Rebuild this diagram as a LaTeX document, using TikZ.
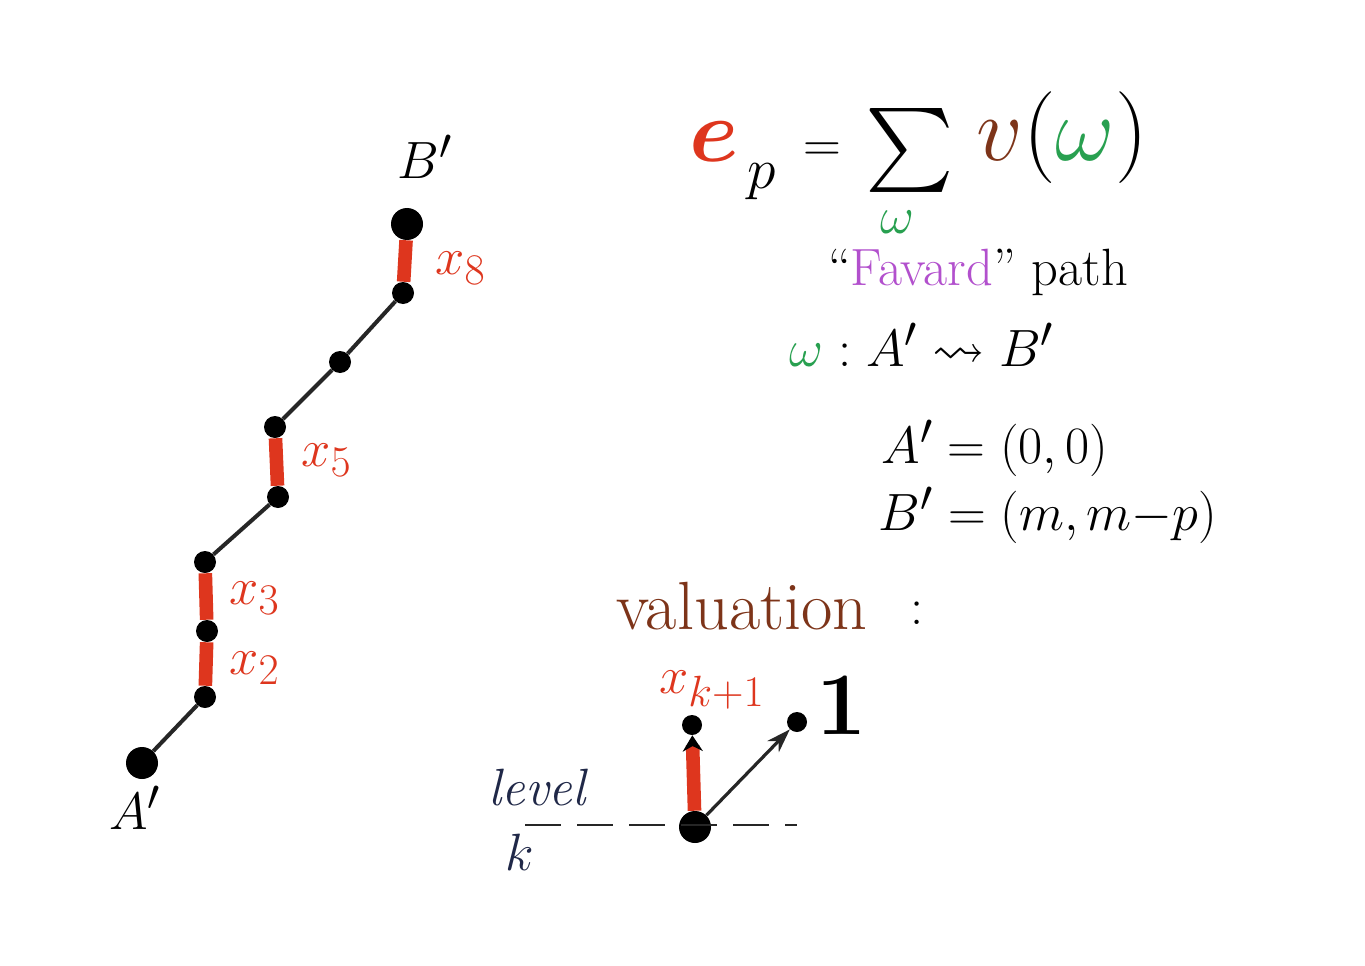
\documentclass[tikz,border=0pt]{standalone}
\usepackage{amsmath,amssymb}
\usepackage{xcolor}
\usepackage{tikz}
\usetikzlibrary{arrows.meta,positioning}
\definecolor{penred}{RGB}{222,54,30}
\definecolor{pengreen}{RGB}{40,160,80}
\definecolor{penpurple}{RGB}{178,80,205}
\definecolor{penbrown}{RGB}{125,52,25}
\definecolor{pennavy}{RGB}{32,40,72}
\tikzset{
  pathdot/.style={circle, fill=black, inner sep=0pt, minimum size=5.5mm},
  enddot/.style={pathdot, minimum size=8mm},
  stepline/.style={penred, line width=3.4mm},
  flatline/.style={black!85, line width=1mm},
  handlabel/.style={font=\Huge, scale=1.5},
  steplabel/.style={handlabel, text=penred, anchor=west}
}

\begin{document}
\begin{tikzpicture}[x=0.25mm, y=-0.25mm]
  \fill[white] (0,0) rectangle (1365,966);
  \useasboundingbox (0,0) rectangle (1365,966);

  % the path from A' to B'
  \node[enddot] (A) at (142,763) {};
  \node[pathdot] (p1) at (205,697) {};
  \node[pathdot] (p2) at (207,631) {};
  \node[pathdot] (p3) at (205,562) {};
  \node[pathdot] (p4) at (278,497) {};
  \node[pathdot] (p5) at (275,427) {};
  \node[pathdot] (p6) at (340,362) {};
  \node[pathdot] (p7) at (403,293) {};
  \node[enddot] (B) at (407,224) {};

  \draw[flatline] (A) -- (p1);
  \draw[stepline] (p1) -- (p2);
  \draw[stepline] (p2) -- (p3);
  \draw[flatline] (p3) -- (p4);
  \draw[stepline] (p4) -- (p5);
  \draw[flatline] (p5) -- (p6);
  \draw[flatline] (p6) -- (p7);
  \draw[stepline] (p7) -- (B);

  \node[steplabel] (x2) at (222,668) {$x_2$};
  \node[steplabel] (x3) at (222,598) {$x_3$};
  \node[steplabel] (x5) at (294,460) {$x_5$};
  \node[steplabel] (x8) at (428,268) {$x_8$};

  \node[handlabel] (Blab) at (425,157) {$B'$};
  \node[handlabel] (Alab) at (135,808) {$A'$};

  % the formula
  \node[handlabel, scale=1.7, text=penred] (e) at (714,142) {$\boldsymbol{e}$};
  \node[handlabel, scale=1.1] (p) at (762,182) {$p$};
  \node[handlabel] (eq) at (822,152) {$=$};
  \node[handlabel, scale=1.6] (sum) at (910,150) {$\sum$};
  \node[handlabel, text=pengreen] (sumidx) at (897,222) {$\omega$};
  \node[handlabel, scale=1.75] (val) at (1062,138) {$\textcolor{penbrown}{v}(\textcolor{pengreen}{\omega})$};

  \node[handlabel] (favard) at (978,272) {``\textcolor{penpurple}{Favard}'' path};
  \node[handlabel] (omega) at (922,345) {$\textcolor{pengreen}{\omega} : A' \rightsquigarrow B'$};
  \node[handlabel] (Apt) at (995,448) {$A' = (0,0)$};
  \node[handlabel] (Bpt) at (1048,515) {$B' = (m, m{-}p)$};

  % valuation of a step
  \node[handlabel, scale=1.3, text=penbrown] (valu) at (742,606) {valuation};
  \node[handlabel] (colon) at (917,613) {:};
  \node[handlabel, text=penred] (xk) at (712,690) {$x_{k+1}$};
  \node[pathdot, minimum size=5mm] (up) at (692,725) {};
  \node[pathdot, minimum size=5mm] (diag) at (797,722) {};
  \node[handlabel, scale=1.7, font=\Huge\bfseries] (one) at (842,705) {1};
  \node[enddot] (base) at (695,827) {};
  \coordinate (lvlL) at (525,825);
  \coordinate (lvlR) at (797,825);

  \draw[black!85, line width=0.7mm, dash pattern=on 9mm off 4mm] (lvlL) -- (lvlR);
  \draw[stepline, -{Stealth[black, length=4mm, width=5mm]}] (base) -- (up);
  \draw[black!85, line width=0.8mm, -{Stealth[length=6mm, width=4mm]}] (base) -- (diag);

  \node[handlabel, text=pennavy, font=\Huge\itshape, scale=1.0] (level) at (537,788) {level};
  \node[handlabel, text=pennavy] (klab) at (520,852) {$k$};
\end{tikzpicture}
\end{document}
